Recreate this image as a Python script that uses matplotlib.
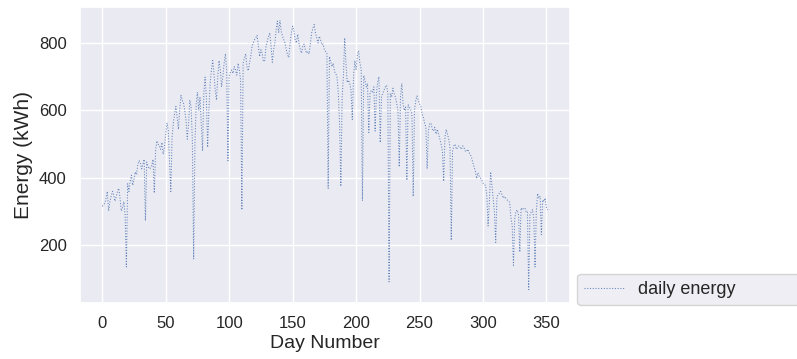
import numpy as np
import matplotlib
matplotlib.use('Agg')
import matplotlib.pyplot as plt
import seaborn as sns

# daily energy readings (kWh), day 0..351
energy = [
    316, 320, 325, 340, 360, 302, 330, 345, 360, 350,
    331, 345, 360, 369, 340, 302, 311, 330, 290, 136,
    383, 360, 390, 408, 378, 395, 418, 410, 440, 451,
    445, 427, 440, 455, 273, 447, 435, 427, 430, 437,
    455, 355, 480, 510, 500, 495, 485, 505, 470, 491,
    530, 563, 540, 450, 360, 520, 563, 590, 612, 580,
    544, 600, 646, 630, 622, 600, 570, 515, 560, 631,
    610, 510, 160, 500, 620, 654, 600, 640, 560, 480,
    650, 699, 640, 491, 600, 680, 720, 748, 710, 660,
    631, 700, 748, 720, 670, 700, 740, 768, 720, 451,
    700, 714, 720, 710, 730, 720, 705, 740, 720, 690,
    305, 740, 755, 768, 730, 718, 740, 760, 790, 800,
    810, 815, 823, 790, 760, 780, 770, 745, 748, 790,
    805, 820, 830, 790, 743, 780, 800, 840, 865, 830,
    867, 835, 820, 810, 800, 780, 765, 757, 800, 830,
    850, 835, 810, 800, 826, 800, 780, 770, 790, 797,
    780, 770, 775, 768, 800, 830, 845, 855, 830, 815,
    800, 820, 810, 795, 797, 780, 775, 771, 369, 760,
    745, 730, 740, 715, 710, 698, 650, 560, 375, 640,
    700, 815, 740, 683, 690, 680, 660, 573, 700, 748,
    720, 765, 777, 740, 724, 332, 704, 690, 670, 680,
    535, 650, 660, 655, 670, 539, 650, 684, 700, 505,
    640, 651, 660, 670, 675, 650, 92, 651, 640, 666,
    650, 640, 620, 600, 433, 640, 680, 620, 600, 610,
    393, 617, 610, 602, 590, 345, 600, 630, 643, 630,
    620, 612, 590, 580, 563, 550, 427, 540, 560, 563,
    545, 539, 550, 530, 544, 530, 515, 500, 480, 390,
    520, 544, 530, 515, 490, 215, 480, 495, 500, 485,
    490, 495, 490, 485, 495, 490, 480, 478, 485, 475,
    470, 460, 445, 433, 420, 398, 415, 405, 400, 393,
    385, 380, 378, 350, 258, 330, 418, 380, 340, 300,
    209, 345, 350, 355, 360, 350, 340, 345, 340, 335,
    331, 328, 282, 260, 141, 280, 301, 305, 290, 180,
    311, 305, 310, 311, 300, 301, 69, 290, 300, 306,
    280, 136, 300, 354, 340, 345, 232, 335, 330, 340,
    311, 305,
]
days = np.arange(len(energy))

sns.set_theme(style='darkgrid')
plt.rcParams['font.family'] = ['Liberation Sans', 'DejaVu Sans']

fig = plt.figure(figsize=(7.97, 3.59), dpi=100)
ax = fig.add_axes([80/797, 56/359, 490/797, 296/359])

ax.plot(days, energy, ':', lw=0.75, color='#4c72b0', alpha=0.85, label='daily energy')

ax.set_xticks([0, 50, 100, 150, 200, 250, 300, 350])
ax.set_yticks([200, 400, 600, 800])
ax.tick_params(labelsize=12)
ax.set_xlabel('Day Number', fontsize=14, labelpad=3)
ax.set_ylabel('Energy (kWh)', fontsize=15)

ax.legend(loc='lower left', bbox_to_anchor=(1.0143, -0.007, 0.46, 0.1), mode='expand',
          fontsize=13, handlelength=2.2, borderaxespad=0)

fig.savefig('out.png', dpi=100)
